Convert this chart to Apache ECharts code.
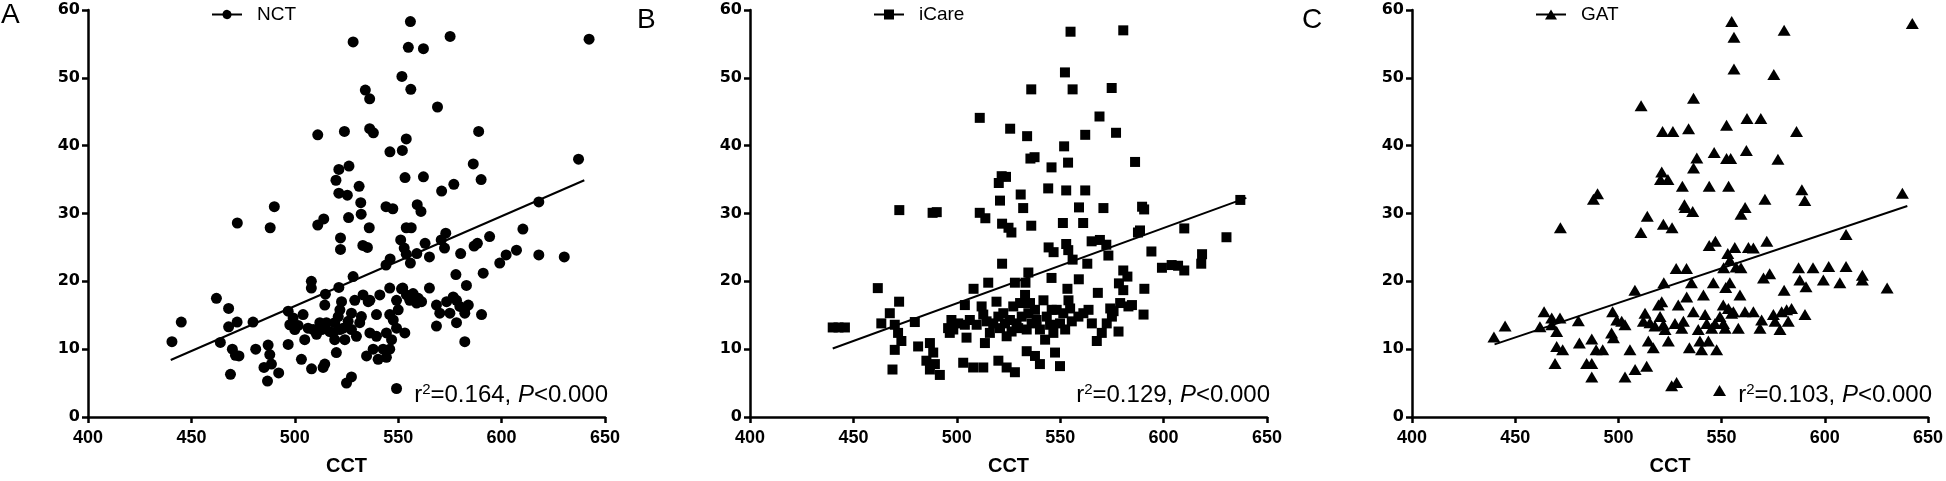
<!DOCTYPE html>
<html>
<head>
<meta charset="utf-8">
<script src="https://cdn.jsdelivr.net/npm/echarts@6/dist/echarts.min.js"></script>
<style>
html, body { margin: 0; padding: 0; background: #fff; }
#main { width: 1946px; height: 481px; }
</style>
</head>
<body>
<div id="main"></div>
<script>
// CCT (x) vs IOP (y)
const nctPoints = [
  [555.9,58.3],[575.1,56.1],[642.3,55.7],[528.2,55.3],[554.9,54.5],[562.2,54.3],[551.8,50.2],[556.1,48.3],[534.1,48.2],[536.2,46.9],
  [569.0,45.7],[524.0,42.1],[511.1,41.6],[536.2,42.5],[538.0,41.9],[588.9,42.1],[553.9,41.0],[546.0,39.1],[552.0,39.3],[586.3,37.3],
  [637.2,38.0],[526.2,37.0],[521.3,36.5],[519.9,34.9],[553.3,35.3],[562.2,35.4],[590.1,35.0],[576.9,34.3],[531.1,34.0],[571.0,33.3],
  [521.3,33.0],[525.4,32.7],[531.9,31.6],[618.0,31.7],[559.2,31.3],[561.0,30.3],[544.1,31.0],[547.4,30.7],[490.1,31.0],[532.1,29.9],
  [526.0,29.4],[514.0,29.2],[511.1,28.3],[472.2,28.6],[488.1,27.9],[536.0,27.9],[553.9,27.9],[556.3,27.9],[610.3,27.7],[573.0,27.1],
  [570.8,26.1],[594.2,26.6],[522.1,26.4],[551.2,26.1],[588.3,25.6],[563.0,25.6],[532.9,25.3],[535.1,25.0],[552.9,24.9],[572.4,24.9],
  [586.7,25.2],[522.1,24.7],[607.2,24.6],[553.9,24.0],[559.0,24.1],[580.2,24.1],[618.0,23.9],[602.2,23.9],[630.3,23.6],[546.1,23.3],
  [565.1,23.6],[544.1,22.4],[555.9,22.7],[599.1,22.7],[577.9,21.0],[591.1,21.2],[528.2,20.7],[508.0,20.0],[508.0,19.0],[521.3,19.1],
  [583.0,19.4],[565.1,19.0],[552.2,19.0],
  [440.6,11.1],[445.1,14.0],[462.1,17.5],[468.0,16.0],[468.0,13.3],[472.1,14.0],[464.0,11.0],[479.8,14.0],[469.8,10.0],[471.3,9.1],
  [473.0,9.0],[468.9,6.3],[481.1,10.0],[487.1,10.6],[487.9,9.2],[485.1,7.3],[488.7,7.8],[492.2,6.5],[486.8,5.3],[496.8,10.7],
  [503.2,8.5],[508.1,7.1],[513.7,7.3],[514.5,7.8],[525.0,5.0],[527.4,5.9],[520.1,9.5],[514.8,18.1],[496.8,15.6],[497.6,13.6],
  [499.2,14.6],[501.6,13.5],[504.0,15.1],[504.8,11.4],[506.4,13.1],[508.9,12.9],[510.5,12.2],[512.1,13.9],[515.3,13.9],[516.9,12.6],
  [519.3,13.9],[521.0,14.8],[521.8,15.8],[522.6,17.0],[523.4,13.1],[524.2,11.4],[525.8,14.1],[527.4,15.3],[529.0,17.2],[529.8,11.9],
  [531.4,13.9],[532.2,14.8],[533.0,18.0],[535.5,17.0],[536.3,17.2],[539.5,15.1],[539.5,11.9],[534.7,9.0],[537.9,10.0],[540.3,8.5],
  [542.7,10.0],[544.3,8.8],[545.9,15.1],[546.8,11.4],[545.9,10.0],[547.6,14.3],[549.2,13.1],[549.2,17.2],[550.0,15.8],[551.6,18.9],
  [553.2,12.4],[554.0,18.0],[555.6,17.2],[557.2,18.2],[558.9,16.8],[559.7,17.5],[561.3,17.0],[568.5,16.5],[568.5,13.4],[570.1,15.3],
  [573.4,17.0],[575.0,15.3],[576.6,17.7],[578.2,13.9],[578.2,17.2],[579.8,16.3],[582.2,16.0],[582.2,15.3],[583.9,16.5],[582.2,11.1],
  [590.3,15.1],[500.0,12.9],[513.0,12.9],[518.5,12.4],[521.8,12.9],[514.5,16.5],[541.1,18.0],[545.9,19.0],[519.3,11.4],[527.4,12.9],
  [536.3,12.4],[544.3,12.4],[549.2,4.2]
];

const icarePoints = [
  [555.0,56.8],[580.5,57.0],[552.3,50.8],[556.0,48.3],[536.0,48.3],[574.9,48.5],[569.0,44.3],[511.1,44.1],[525.8,42.5],[534.0,41.4],
  [562.1,41.6],[577.0,41.9],[551.9,39.9],[535.6,38.1],[537.6,38.3],[553.8,37.5],[586.2,37.6],[545.8,36.8],[523.8,35.4],[520.3,34.5],
  [521.7,35.5],[544.2,33.7],[552.9,33.4],[562.1,33.4],[530.9,32.8],[520.9,31.9],[532.1,30.8],[559.1,30.9],[570.9,30.8],[589.6,31.0],
  [590.6,30.6],[472.2,30.5],[488.3,30.1],[490.3,30.2],[511.1,30.1],[513.8,29.3],[637.1,32.0],[521.9,28.5],[525.0,27.9],[526.4,27.2],
  [536.0,28.2],[551.3,28.6],[561.1,28.6],[587.6,27.2],[588.6,27.5],[610.0,27.8],[630.4,26.5],[565.2,25.9],[569.2,26.1],[572.3,25.4],
  [552.9,25.5],[544.4,25.0],[546.8,24.3],[553.9,24.6],[594.1,24.4],[573.3,23.8],[618.6,24.0],[618.2,22.6],[556.0,23.2],[563.1,22.6],
  [521.9,22.6],[599.2,22.0],[603.9,22.4],[607.0,22.3],[610.0,21.6],[534.6,21.3],[580.5,21.6],[582.5,20.7],[545.8,20.5],[559.0,20.3],
  [578.4,19.7],[515.2,19.8],[528.1,19.8],[533.2,19.8],[461.8,19.0],[508.1,18.9],[580.5,18.7],[590.7,18.9],[553.5,18.9],[568.2,18.3],
  [440.0,13.2],[442.8,13.2],[445.9,13.2],[472.1,17.0],[463.5,13.8],[467.6,15.3],[470.0,13.6],[471.6,12.4],[473.2,11.2],[470.0,9.9],
  [468.9,7.0],[479.7,14.0],[481.3,10.4],[487.0,10.9],[488.6,9.5],[485.3,8.3],[487.0,7.0],[491.8,6.2],[489.4,7.8],[497.4,14.3],
  [498.3,12.9],[500.7,13.8],[503.9,16.5],[503.9,13.6],[504.7,11.7],[509.6,13.6],[512.0,16.3],[512.8,15.1],[513.6,10.9],[516.0,12.4],
  [517.6,13.8],[519.2,17.0],[520.1,14.8],[520.9,13.1],[522.5,15.3],[523.3,13.8],[524.1,11.9],[525.7,14.3],[527.3,16.3],[529.7,13.1],
  [530.6,16.8],[531.4,14.8],[533.0,18.0],[534.6,15.3],[536.2,13.8],[537.8,15.8],[540.2,12.9],[541.9,17.2],[542.7,11.4],[543.5,14.8],
  [545.9,15.8],[546.7,12.4],[549.9,13.8],[551.5,15.3],[554.0,17.2],[554.8,16.0],[558.8,14.8],[561.2,15.3],[563.7,15.8],[565.3,13.8],
  [567.7,11.2],[570.1,12.4],[574.2,16.0],[575.0,14.8],[578.2,12.6],[579.0,16.8],[583.0,16.3],[584.7,16.5],[590.3,15.1],[503.1,8.0],
  [507.9,7.3],[512.8,7.3],[520.1,8.3],[524.1,7.3],[528.1,6.6],[533.8,9.7],[537.8,9.0],[540.2,7.8],[547.5,9.5],[549.9,7.5],
  [495.8,13.1],[496.6,12.4],[506.3,14.3],[514.4,14.1],[526.5,12.6],[528.9,13.8],[535.4,16.8],[538.6,14.3],[545.1,13.6],[548.3,15.8],
  [555.6,14.1],[572.5,13.8],[575.8,15.6],[552.4,12.9],[533.8,12.9]
];

const gatPoints = [
  [554.9,58.3],[642.4,58.0],[556.0,56.0],[580.3,57.0],[556.0,51.3],[575.3,50.5],[511.0,45.9],[536.4,47.0],[552.4,43.0],[562.3,44.0],
  [569.0,44.0],[534.0,42.5],[521.4,42.1],[526.4,42.1],[586.3,42.1],[546.4,39.0],[562.0,39.3],[538.0,38.2],[552.4,38.1],[554.4,38.1],
  [577.3,38.0],[536.4,36.7],[521.0,36.1],[524.0,35.0],[520.4,35.0],[531.0,34.0],[544.0,34.0],[553.4,34.0],[588.9,33.5],[637.6,33.0],
  [487.9,32.1],[489.9,32.9],[590.3,31.9],[571.0,32.1],[532.0,31.3],[532.4,30.9],[561.4,30.9],[536.0,30.3],[559.4,29.9],[514.0,29.6],
  [471.9,27.9],[510.9,27.2],[521.8,28.4],[526.0,27.9],[610.3,26.9],[544.0,25.3],[547.0,25.9],[556.4,25.0],[563.0,25.0],[565.4,24.9],
  [571.9,25.9],[553.0,24.1],[554.0,23.1],[601.9,22.2],[610.3,22.2],[594.3,22.0],[587.3,22.0],[528.0,21.9],[533.0,21.9],[551.0,22.0],
  [557.0,22.1],[559.4,22.0],[573.3,21.1],[570.3,20.5],[618.2,20.9],[618.2,20.2],[599.3,20.2],[607.3,19.8],[587.9,20.2],[522.0,19.8],
  [535.4,19.8],[546.0,19.8],[554.0,19.8],[590.9,19.2],[630.2,19.0],[508.0,18.7],[580.3,18.7],[552.0,19.1],
  [439.7,11.8],[445.1,13.4],[462.0,13.3],[464.0,15.5],[467.7,14.6],[467.7,13.6],[470.1,12.6],[471.7,14.6],[470.1,10.4],[473.0,9.9],
  [469.3,7.9],[480.6,14.2],[481.1,10.9],[487.1,11.5],[489.2,9.9],[492.4,9.9],[484.6,7.9],[487.1,7.9],[487.1,5.9],[497.2,15.5],
  [496.7,12.4],[497.6,11.7],[499.2,14.3],[501.6,14.1],[503.2,13.6],[505.6,9.9],[503.2,5.9],[508.1,7.0],[513.7,7.5],[512.1,14.1],
  [512.9,15.3],[514.5,11.2],[515.3,13.9],[516.9,10.2],[517.7,13.4],[519.4,16.5],[520.2,14.8],[521.0,17.0],[521.8,13.6],[522.6,12.9],
  [524.2,11.2],[525.8,4.6],[528.2,5.1],[527.4,13.8],[529.0,16.5],[530.7,13.1],[531.5,14.1],[533.1,17.7],[534.4,10.2],[536.3,15.5],
  [538.7,12.9],[539.5,11.2],[540.3,9.9],[541.2,18.0],[542.0,15.1],[543.6,11.2],[545.2,13.1],[546.8,13.8],[547.6,9.9],[549.2,14.8],
  [550.8,16.5],[551.7,13.1],[553.3,16.0],[555.7,15.5],[558.1,13.1],[558.9,18.0],[561.3,15.5],[565.4,15.5],[568.6,13.1],[569.4,14.3],
  [575.1,15.1],[575.9,14.1],[578.3,12.9],[579.1,15.5],[581.5,15.8],[582.3,14.1],[583.9,16.0],[590.4,15.1],[542.8,13.8],[550.9,13.8],
  [554.9,15.3],[549.0,3.9]
];

// regression lines, end points
const nctFit = [[440, 8.4], [640, 34.9]];
const icareFit = [[440, 10.1], [640, 32.3]];
const gatFit = [[440, 10.7], [640, 31.1]];

const panelNames = ['NCT', 'iCare', 'GAT'];
const panelLetters = ['A', 'B', 'C'];
const r2Values = ['0.164', '0.129', '0.103'];
const pValues = ['0.000', '0.000', '0.000'];
const xName = 'CCT';
const xRange = [400, 650, 50];
const yRange = [0, 60, 10];

const points = [nctPoints, icarePoints, gatPoints];
const fits = [nctFit, icareFit, gatFit];

// layout
const gridLefts = [88, 750, 1412];
const gridWidth = 517;
const letterLefts = [1, 637, 1302];
const letterTops = [1, 6, 6];
const symbols = ['circle', 'rect', 'triangle'];
const symbolSizes = [11, 10, [13, 11]];
const legendIcons = [
  'path://M0,4H10.5A4.6,4.6,0,0,1,19.5,4H30V6H19.5A4.6,4.6,0,0,1,10.5,6H0Z',
  'path://M0,4H10V0H20V4H30V6H20V10H10V6H0Z',
  'path://M0,4H12.6L15,0L17.4,4H30V6H18.6L21,10H9L11.4,6H0Z'
];

const chart = echarts.init(document.getElementById('main'));

const axisLineStyle = { color: '#000', width: 2.5 };

const grids = [], xAxes = [], yAxes = [], series = [], legends = [], titles = [], texts = [];

panelNames.forEach((name, i) => {
  grids.push({ left: gridLefts[i], top: 10, width: gridWidth, height: 412 });

  xAxes.push({
    type: 'value', gridIndex: i,
    min: xRange[0], max: xRange[1], interval: xRange[2],
    name: xName, nameLocation: 'middle', nameGap: 39,
    nameTextStyle: { fontSize: 20, fontWeight: 'bold', color: '#000' },
    axisLine: { show: true, onZero: false, lineStyle: axisLineStyle },
    axisTick: { show: true, length: 6, lineStyle: axisLineStyle },
    axisLabel: { fontSize: 18, fontWeight: 'bold', color: '#000', margin: 12 },
    splitLine: { show: false }
  });

  yAxes.push({
    type: 'value', gridIndex: i,
    min: yRange[0], max: yRange[1], interval: yRange[2],
    axisLine: { show: true, onZero: false, lineStyle: axisLineStyle },
    axisTick: { show: true, length: 6, lineStyle: axisLineStyle },
    axisLabel: { fontFamily: 'DejaVu Sans', fontSize: 16, fontWeight: 'bold', color: '#000', margin: 8 },
    splitLine: { show: false }
  });

  series.push({
    type: 'scatter', name: name,
    xAxisIndex: i, yAxisIndex: i,
    symbol: symbols[i], symbolSize: symbolSizes[i],
    itemStyle: { color: '#000', opacity: 1 },
    data: points[i]
  });

  series.push({
    type: 'line', name: name + ' fit',
    xAxisIndex: i, yAxisIndex: i,
    symbol: 'none', silent: true,
    lineStyle: { color: '#000', width: 2 },
    data: fits[i]
  });

  legends.push({
    data: [{ name: name, icon: legendIcons[i] }],
    left: gridLefts[i] + 124, top: 5, padding: 0,
    itemWidth: 30, itemHeight: 10,
    selectedMode: false,
    textStyle: { fontSize: 19, color: '#000', padding: [0, 0, 0, 10] }
  });

  titles.push({
    text: panelLetters[i], left: letterLefts[i], top: letterTops[i], padding: 0,
    textStyle: { fontSize: 28, fontWeight: 'normal', color: '#000' }
  });

  texts.push({
    type: 'text',
    right: 1946 - (gridLefts[i] + gridWidth + 3),
    top: 382,
    style: {
      text: '{a|r}{s|2}{a|=' + r2Values[i] + ', }{p|P}{a|<' + pValues[i] + '}',
      rich: {
        a: { fontSize: 24, fontFamily: 'Liberation Sans', fill: '#000', lineHeight: 26 },
        s: { fontSize: 15, fontFamily: 'Liberation Sans', fill: '#000', verticalAlign: 'top', lineHeight: 26 },
        p: { fontSize: 24, fontFamily: 'Liberation Sans', fontStyle: 'italic', fill: '#000', lineHeight: 26 }
      }
    }
  });
});

chart.setOption({
  animation: false,
  backgroundColor: '#fff',
  textStyle: { fontFamily: 'Liberation Sans' },
  title: titles,
  legend: legends,
  grid: grids,
  xAxis: xAxes,
  yAxis: yAxes,
  series: series,
  graphic: texts
});
</script>
</body>
</html>
